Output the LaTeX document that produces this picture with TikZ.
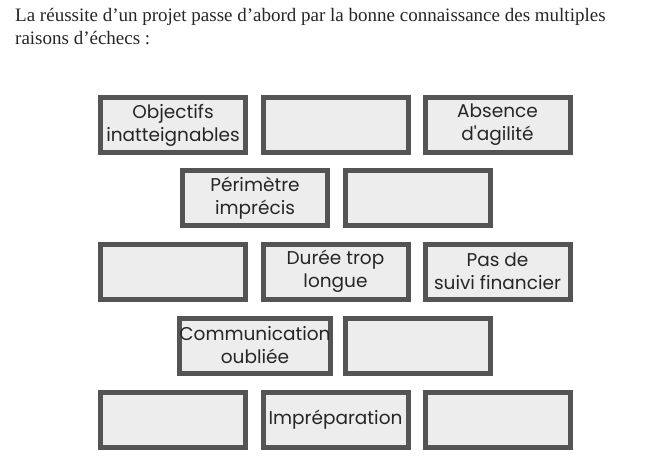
\documentclass[tikz,border=0pt]{standalone}
\usepackage{fontspec}
\setmainfont{Liberation Serif}
\newfontfamily\boxfont{Poppins}
\begin{document}
\begin{tikzpicture}[x=1pt,y=-1pt,
  brick/.style={draw=black!67,line width=5,fill=black!7,minimum width=145,minimum height=55,inner sep=0,align=center,font=\boxfont\fontsize{18.5}{23}\selectfont,text=black!85}]
\useasboundingbox (0,0) rectangle (671,473);
\node[anchor=base west,font=\fontsize{19}{20}\selectfont,text=black!85,inner sep=0] (t) at (15,22) {La réussite d'un projet passe d'abord par la bonne connaissance des multiples};
\node[anchor=base west,font=\fontsize{19}{20}\selectfont,text=black!85,inner sep=0] (t2) at (15,45) {raisons d'échecs :};
\node[brick] (a1) at (173,125) {Objectifs\\inatteignables};
\node[brick] (a2) at (335.5,125) {};
\node[brick] (a3) at (497.5,125) {Absence\\d'agilité};
\node[brick] (b1) at (255,198) {Périmètre\\imprécis};
\node[brick] (b2) at (417.5,198) {};
\node[brick] (c1) at (173,271.5) {};
\node[brick] (c2) at (335.5,271.5) {Durée trop\\longue};
\node[brick] (c3) at (497.5,271.5) {Pas de\\suivi financier};
\node[brick] (d1) at (255,345.5) {Communication\\oubliée};
\node[brick] (d2) at (417.5,345.5) {};
\node[brick] (e1) at (173,419.5) {};
\node[brick] (e2) at (335.5,419.5) {Impréparation};
\node[brick] (e3) at (497.5,419.5) {};
\end{tikzpicture}
\end{document}
